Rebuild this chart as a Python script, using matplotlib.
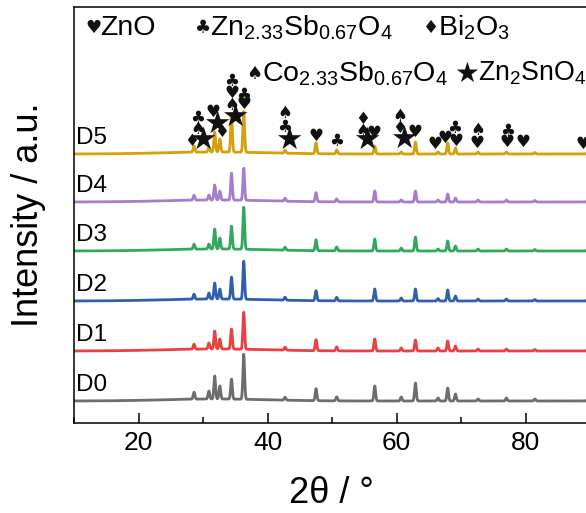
import numpy as np
import matplotlib
matplotlib.use("Agg")
import matplotlib.pyplot as plt
from matplotlib.ticker import MultipleLocator

plt.rcParams['font.family'] = ['Liberation Sans', 'DejaVu Sans']
plt.rcParams['mathtext.fontset'] = 'custom'
plt.rcParams['mathtext.rm'] = 'Liberation Sans'
plt.rcParams['mathtext.it'] = 'Liberation Sans'

# ---- data -------------------------------------------------------------
samples = ["D0", "D1", "D2", "D3", "D4", "D5"]
colors = ["#6d6d6d", "#e8413f", "#3060ac", "#32a85e", "#a77ccc", "#d4a10a"]
offsets = [22, 72, 122, 172, 221, 269]

peak_pos = [28.6, 30.9, 31.8, 32.6, 34.4, 36.3, 42.7, 47.5, 50.7, 56.6,
            60.7, 62.9, 66.4, 67.9, 69.1, 72.6, 77.0, 81.4, 89.6]
peak_h = {
    "D0": [7, 8, 23, 13, 20, 45, 3, 12, 4, 15, 4, 18, 3, 13, 7, 2, 3, 2, 2],
    "D1": [5, 6, 18, 10, 20, 37, 3, 11, 4, 12, 3, 11, 3, 10, 5, 2, 2, 1.5, 1.5],
    "D2": [5, 6, 16, 10, 22, 38, 3, 10, 3.5, 12, 3, 12, 2.5, 11, 5, 2, 2, 1.5, 1.5],
    "D3": [5, 5, 20, 11, 23, 42, 3, 11, 4, 12, 3, 14, 2, 10, 5, 2, 2, 1.5, 1.5],
    "D4": [5, 5, 15, 9, 27, 32, 3, 9, 3, 11, 2, 11, 2, 8, 4, 2, 2, 1.5, 1.5],
    "D5": [6, 5, 20, 13, 38, 41, 3, 11, 4, 8, 2, 12, 2, 11, 6, 2, 2, 1.5, 2],
}
peak_sigma = 0.13
hump_pos, hump_h, hump_w = 32.0, 2.0, 8.0

# phase markers above D5: (2theta, height above D5 baseline, symbol)
mark_pos = [28.24, 29.18, 29.18, 29.95, 31.55, 32.18, 32.8, 34.46, 34.46, 34.46,
            34.93, 36.33, 36.33, 42.7, 42.7, 43.3, 47.47, 50.73, 54.77, 54.77,
            55.39, 56.53, 60.41, 60.41, 61.03, 62.9, 65.85, 67.4, 68.96, 69.1,
            72.5, 72.5, 77.15, 77.15, 79.5, 88.8]
mark_h = [12.7, 35.7, 24.7, 13.7, 41.7, 29.7, 21.7, 72.7, 60.7, 48.7,
          36.7, 58.7, 49.7, 40.7, 26.7, 13.7, 17.7, 12.7, 34.7, 23,
          13.7, 20.7, 38, 25.7, 14.7, 22, 9.7, 15.7, 25.7, 12.7,
          23.7, 10.7, 22.7, 11.7, 12, 9.7]
mark_sym = ["♦", "♣", "♠", "★", "♥", "★", "♦", "♣", "♥", "♠",
            "★", "♣", "♥", "♠", "♣", "★", "♥", "♣", "♦", "♠",
            "★", "♥", "♠", "♦", "★", "♥", "♥", "♥", "♣", "♥",
            "♠", "♥", "♣", "♥", "♥", "♥"]

legend_sym = ["♥", "♣", "♦", "♠", "★"]
legend_lab = ["ZnO", r"Zn$_{2.33}$Sb$_{0.67}$O$_4$", r"Bi$_2$O$_3$",
              r"Co$_{2.33}$Sb$_{0.67}$O$_4$", r"Zn$_2$SnO$_4$"]
legend_x = [0.022, 0.236, 0.680, 0.336, 0.741]
legend_y = [0.950, 0.950, 0.950, 0.840, 0.840]
legend_fs = [20.5, 20.5, 20.5, 20.5, 19.3]

xticks = [20, 40, 60, 80]

# ---- figure -----------------------------------------------------------
fig = plt.figure(figsize=(5.86, 5.13), dpi=100)
ax = fig.add_axes([74 / 586, 90 / 513, 1 - 74 / 586 + 0.003, 416 / 513])

tt = np.arange(10, 90.01, 0.02)
for name, col, off in zip(samples, colors, offsets):
    y = np.full_like(tt, float(off))
    y += hump_h * np.exp(-0.5 * ((tt - hump_pos) / hump_w) ** 2)
    for p, h in zip(peak_pos, peak_h[name]):
        y += h * np.exp(-0.5 * ((tt - p) / peak_sigma) ** 2)
    ax.plot(tt, y, color=col, lw=2.0, solid_joinstyle='round')
    ax.text(10.3, off + 5, name, fontsize=17.5, ha='left', va='bottom')

for p, h, s in zip(mark_pos, mark_h, mark_sym):
    size = 22 if s == "★" else 12
    ax.text(p, offsets[-1] + h, s, fontsize=size, ha='center', va='center',
            family='DejaVu Sans', color='#111111')

# legend of phases
for s, lab, lx, ly, fs in zip(legend_sym, legend_lab, legend_x, legend_y, legend_fs):
    size = 20 if s == "★" else 13
    st = ax.text(lx, ly, s, transform=ax.transAxes, fontsize=size,
                 family='DejaVu Sans', ha='left', va='center', color='#111111')
    ax.annotate(lab, xy=(1.0, 0.5), xycoords=st, xytext=(-0.8, 0),
                textcoords='offset points', fontsize=fs, ha='left',
                va='center', annotation_clip=False)

ax.set_xlim(10, 89.6)
ax.set_ylim(0, 416)
ax.set_xticks(xticks)
ax.xaxis.set_minor_locator(MultipleLocator(10))
ax.set_yticks([])
ax.tick_params(axis='x', which='major', direction='in', length=7, width=1.1,
               labelsize=19, pad=6)
ax.tick_params(axis='x', which='minor', direction='in', length=4, width=1.1)
for sp in ax.spines.values():
    sp.set_linewidth(1.1)
ax.spines['right'].set_visible(False)
ax.set_xlabel("2θ / °", fontsize=26, labelpad=15)
ax.set_ylabel("Intensity / a.u.", fontsize=26, labelpad=20)

fig.savefig("out.png", dpi=100)
